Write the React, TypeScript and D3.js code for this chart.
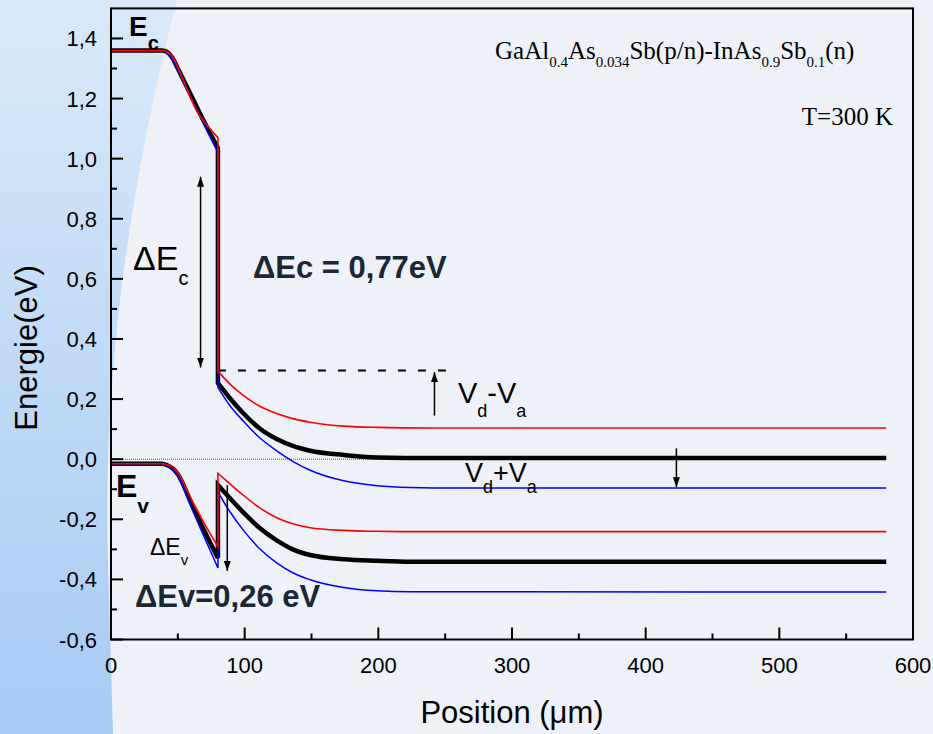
import React from 'react';
import * as d3 from 'd3';

const W = 933;
const H = 734;

// axis ticks
const xTicks = [0, 100, 200, 300, 400, 500, 600];
const xMinor = [50, 150, 250, 350, 450, 550];
const yTicks = [-0.6, -0.4, -0.2, 0, 0.2, 0.4, 0.6, 0.8, 1.0, 1.2, 1.4];
const yMinor = [-0.5, -0.3, -0.1, 0.1, 0.3, 0.5, 0.7, 0.9, 1.1, 1.3];

// conduction band, GaAlAsSb side (0-80 µm)
const ecBlackP = [[0, 1.36], [38, 1.36], [42, 1.355], [46, 1.335], [50, 1.3], [60, 1.21], [70, 1.12], [80, 1.035]];
const ecRedP = [[0, 1.36], [38, 1.36], [42, 1.356], [46, 1.34], [50, 1.305], [56, 1.24], [64, 1.16], [72, 1.11], [80, 1.07]];
const ecBlueP = [[0, 1.36], [38, 1.36], [42, 1.353], [46, 1.33], [50, 1.295], [60, 1.2], [70, 1.11], [80, 1.02]];
// conduction band, InAsSb side (80-580 µm)
const ecBlackN = [[80, 0.253], [89, 0.203], [99, 0.153], [111, 0.103], [124, 0.067], [136, 0.044], [149, 0.028], [174, 0.014], [199, 0.006], [240, 0.004], [580, 0.004]];
const ecRedN = [[80, 0.293], [89, 0.25], [99, 0.212], [111, 0.177], [124, 0.152], [136, 0.135], [149, 0.123], [174, 0.11], [199, 0.106], [240, 0.104], [580, 0.104]];
const ecBlueN = [[80, 0.238], [89, 0.178], [99, 0.127], [111, 0.072], [124, 0.028], [136, -0.007], [149, -0.037], [174, -0.072], [199, -0.088], [224, -0.094], [260, -0.096], [580, -0.096]];

// valence band
const evBlackP = [[0, -0.015], [38, -0.015], [42, -0.02], [46, -0.03], [50, -0.05], [60, -0.145], [70, -0.24], [80, -0.329]];
const evRedP = [[0, -0.015], [38, -0.015], [42, -0.018], [46, -0.027], [50, -0.045], [60, -0.132], [70, -0.215], [80, -0.291]];
const evBlueP = [[0, -0.015], [38, -0.015], [42, -0.022], [46, -0.035], [50, -0.056], [60, -0.16], [70, -0.262], [80, -0.362]];
const evBlackN = [[80, -0.086], [89, -0.13], [99, -0.177], [111, -0.228], [124, -0.27], [136, -0.3], [149, -0.319], [174, -0.333], [199, -0.338], [224, -0.341], [580, -0.341]];
const evRedN = [[80, -0.047], [89, -0.082], [99, -0.12], [111, -0.161], [124, -0.195], [136, -0.215], [149, -0.228], [174, -0.237], [199, -0.24], [224, -0.241], [580, -0.241]];
const evBlueN = [[80, -0.11], [89, -0.175], [99, -0.236], [111, -0.297], [124, -0.345], [136, -0.378], [149, -0.401], [174, -0.427], [199, -0.438], [224, -0.441], [580, -0.442]];

const bands = [
  { left: ecBlackP, right: ecBlackN, color: '#000', width: 4.5 },
  { left: evBlackP, right: evBlackN, color: '#000', width: 4.5 },
  { left: ecBlueP, right: ecBlueN, color: '#0000ff', width: 1.5 },
  { left: evBlueP, right: evBlueN, color: '#0000ff', width: 1.5 },
  { left: ecRedP, right: ecRedN, color: '#ff0000', width: 1.6 },
  { left: evRedP, right: evRedN, color: '#ff0000', width: 1.6 },
];

// annotation arrows: [position, from, to, head at start, head at end]
const arrows = [
  [67, 0.305, 0.94, true, true],
  [242, 0.145, 0.29, false, true],
  [423, 0.036, -0.093, false, true],
  [87, -0.086, -0.372, false, true],
];

const SANS = 'Liberation Sans, Arial, sans-serif';
const SERIF = 'Liberation Serif, Times New Roman, serif';
const DARK = '#1b2735';

type Part = [string, boolean];

const Rich = ({ x, y, size, subSize, off, parts, family = SANS, weight = 'normal', fill = '#000', anchor = 'start' }:
  { x: number; y: number; size: number; subSize: number; off: number; parts: Part[]; family?: string; weight?: string; fill?: string; anchor?: string }) => {
  let low = false;
  return (
    <text x={x} y={y} fontFamily={family} fontWeight={weight} fontSize={size} fill={fill} textAnchor={anchor}>
      {parts.map(([t, sub], i) => {
        const dy = sub && !low ? off : !sub && low ? -off : 0;
        low = sub;
        return (
          <tspan key={i} dy={dy} fontSize={sub ? subSize : size}>{t}</tspan>
        );
      })}
    </text>
  );
};

const fmt = (v: number) => (Math.abs(v) < 1e-9 ? '0,0' : v.toFixed(1).replace('.', ','));

export default function App() {
  const x = d3.scaleLinear().domain([0, 600]).range([111, 913]);
  const y = d3.scaleLinear().domain([-0.6, 1.5]).range([639.5, 8.4]);
  const line = d3.line<number[]>().x((d) => x(d[0])).y((d) => y(d[1])).curve(d3.curveMonotoneX);
  const bandPath = (l: number[][], r: number[][]) => (line(l) || '') + (line(r) || '').replace(/^M/, 'L');

  return (
    <svg width={W} height={H} style={{ position: 'fixed', left: 0, top: 0 }}>
      <defs>
        <linearGradient id="bg" x1="0" y1="0" x2="0" y2="1">
          <stop offset="0" stopColor="#dae9f9" />
          <stop offset="1" stopColor="#a6cbf4" />
        </linearGradient>
        <marker id="head" viewBox="0 0 10 7" refX="10" refY="3.5" markerWidth="10" markerHeight="7"
          markerUnits="userSpaceOnUse" orient="auto-start-reverse">
          <path d="M0,0L10,3.5L0,7Z" fill="#000" />
        </marker>
      </defs>
      <rect width={W} height={H} fill="#eef2f8" />
      <path d="M0,0H177Q100,300 108,560L113,734H0Z" fill="url(#bg)" />

      {/* zero reference */}
      <line x1={x(0)} x2={x(580)} y1={y(0)} y2={y(0)} stroke="#555" strokeWidth={1} strokeDasharray="1,1" />
      {/* built-in potential level */}
      <line x1={x(80)} x2={x(257)} y1={y(0.295)} y2={y(0.295)} stroke="#000" strokeWidth={2} strokeDasharray="8,12" />

      {bands.map((b, i) => (
        <path key={i} d={bandPath(b.left, b.right)} fill="none" stroke={b.color} strokeWidth={b.width}
          strokeLinejoin="miter" />
      ))}

      {arrows.map(([p, a, b, s, e], i) => (
        <line key={i} x1={x(p as number)} x2={x(p as number)} y1={y(a as number)} y2={y(b as number)}
          stroke="#000" strokeWidth={1.5} markerStart={s ? 'url(#head)' : undefined} markerEnd={e ? 'url(#head)' : undefined} />
      ))}

      {/* frame and ticks */}
      <rect x={x(0)} y={y(1.5)} width={x(600) - x(0)} height={y(-0.6) - y(1.5)} fill="none" stroke="#000" strokeWidth={2} />
      {xTicks.map((t) => (
        <g key={t}>
          <line x1={x(t)} x2={x(t)} y1={y(-0.6)} y2={y(-0.6) - 12} stroke="#000" strokeWidth={2} />
          <text x={x(t)} y={673} textAnchor="middle" fontFamily={SANS} fontSize={22}>{t}</text>
        </g>
      ))}
      {xMinor.map((t) => (
        <line key={t} x1={x(t)} x2={x(t)} y1={y(-0.6)} y2={y(-0.6) - 6} stroke="#000" strokeWidth={2} />
      ))}
      {yTicks.map((t) => (
        <g key={t}>
          <line x1={x(0)} x2={x(0) + 12} y1={y(t)} y2={y(t)} stroke="#000" strokeWidth={2} />
          <text x={97} y={y(t) + 8} textAnchor="end" fontFamily={SANS} fontSize={22}>{fmt(t)}</text>
        </g>
      ))}
      {yMinor.map((t) => (
        <line key={t} x1={x(0)} x2={x(0) + 6} y1={y(t)} y2={y(t)} stroke="#000" strokeWidth={2} />
      ))}

      {/* axis titles */}
      <text transform="translate(37,348) rotate(-90)" textAnchor="middle" fontFamily={SANS} fontSize={31}>Energie(eV)</text>
      <text x={512} y={723} textAnchor="middle" fontFamily={SANS} fontSize={31}>Position (μm)</text>

      {/* labels */}
      <Rich x={129} y={36} size={28} subSize={20} off={14} weight="bold" parts={[['E', false], ['c', true]]} />
      <Rich x={116} y={497} size={32} subSize={21} off={16} weight="bold" parts={[['E', false], ['v', true]]} />
      <Rich x={133} y={270} size={34} subSize={20} off={15} parts={[['ΔE', false], ['c', true]]} />
      <Rich x={150} y={555} size={23} subSize={15} off={10} parts={[['ΔE', false], ['v', true]]} />
      <text x={253} y={278} fontFamily={SANS} fontWeight="bold" fontSize={31} fill={DARK}>ΔEc = 0,77eV</text>
      <text x={135} y={607} fontFamily={SANS} fontWeight="bold" fontSize={31} fill={DARK}>ΔEv=0,26 eV</text>
      <Rich x={458} y={403} size={29} subSize={18} off={14} parts={[['V', false], ['d', true], ['-V', false], ['a', true]]} />
      <Rich x={465} y={482} size={27} subSize={18} off={11} parts={[['V', false], ['d', true], ['+V', false], ['a', true]]} />

      <Rich x={495} y={59} size={25} subSize={15} off={8} family={SERIF}
        parts={[['GaAl', false], ['0.4', true], ['As', false], ['0.034', true], ['Sb(p/n)-InAs', false], ['0.9', true], ['Sb', false], ['0.1', true], ['(n)', false]]} />
      <text x={893} y={125} textAnchor="end" fontFamily={SERIF} fontSize={25}>T=300 K</text>
    </svg>
  );
}
